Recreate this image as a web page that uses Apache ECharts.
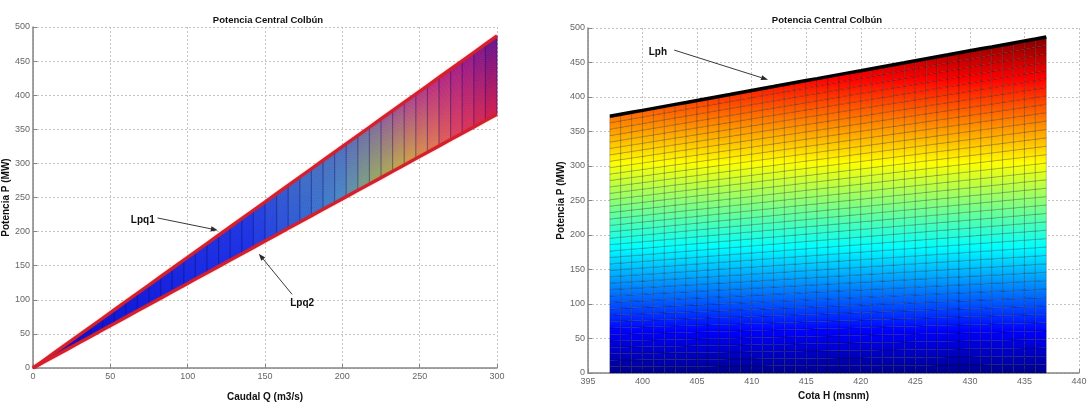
<!DOCTYPE html>
<html><head><meta charset="utf-8">
<script src="https://cdn.jsdelivr.net/npm/echarts@6/dist/echarts.min.js"></script>
<style>html,body{margin:0;padding:0;background:#fff}#c{width:1091px;height:407px}</style>
</head><body><div id="c"></div>
<script>
// ---- data ----
const caudalQ = [0,7.5,15,22.5,30,37.5,45,52.5,60,67.5,75,82.5,90,97.5,105,112.5,120,127.5,135,142.5,150,157.5,165,172.5,180,187.5,195,202.5,210,217.5,225,232.5,240,247.5,255,262.5,270,277.5,285,292.5,300];
const cotaH = [397,398,399,400,401,402,403,404,405,406,407,408,409,410,411,412,413,414,415,416,417,418,419,420,421,422,423,424,425,426,427,428,429,430,431,432,433,434,435,436,437];
// power at full flow (Q = 300) for each level H, read along Lph
const potenciaMax = [372,374.9,377.8,380.6,383.5,386.4,389.3,392.1,395,397.9,400.8,403.6,406.5,409.4,412.3,415.1,418,420.9,423.8,426.6,429.5,432.4,435.3,438.1,441,443.9,446.8,449.6,452.5,455.4,458.3,461.1,464,466.9,469.8,472.6,475.5,478.4,481.3,484.1,487];
const tituloTexto = 'Potencia Central Colbún';
const annotIzqLabel = ['Lpq1','Lpq2'];
const annotIzqText = [[71,217],[174,95]];
const annotIzqFrom = [[80.5,220],[167.5,108]];
const annotIzqTo = [[119.5,202],[146,167.5]];
const annotDerLabel = ['Lph'];
const annotDerText = [[401.4,465]];
const annotDerFrom = [[402.9,468]];
const annotDerTo = [[411.5,425]];

// ---- styling ----
const FONT = "'Liberation Sans Narrow','Liberation Sans',Arial,sans-serif";
const JET = [{offset:0,color:'#00008f'},{offset:0.125,color:'#0000ff'},{offset:0.375,color:'#00ffff'},{offset:0.625,color:'#ffff00'},{offset:0.875,color:'#ff0000'},{offset:1,color:'#800000'}];
const bottomStops = [[0,'#1414f0'],[140,'#1a30f0'],[175,'#3068d8'],[200,'#4a90c8'],[220,'#9ab060'],[240,'#d0b040'],[258,'#e88050'],[275,'#e83c5a'],[300,'#d81848']];
const topStops = [[0,'#1414f0'],[140,'#2038e8'],[175,'#4070c8'],[200,'#5070c0'],[220,'#8070a0'],[240,'#b04890'],[260,'#c02880'],[280,'#a01888'],[300,'#601090']];

function hex2rgb(h){return [parseInt(h.slice(1,3),16),parseInt(h.slice(3,5),16),parseInt(h.slice(5,7),16)];}
function sample(stops,q){
  if(q<=stops[0][0]) return hex2rgb(stops[0][1]);
  for(let k=1;k<stops.length;k++){
    if(q<=stops[k][0]){const a=hex2rgb(stops[k-1][1]),b=hex2rgb(stops[k][1]);const t=(q-stops[k-1][0])/(stops[k][0]-stops[k-1][0]);return a.map((v,n)=>v+(b[n]-v)*t);}
  }
  return hex2rgb(stops[stops.length-1][1]);
}
function leftColor(q,t){const b=sample(bottomStops,q),u=sample(topStops,q);const c=b.map((v,n)=>Math.round(v+(u[n]-v)*t));return 'rgb('+c.join(',')+')';}

const nQ=caudalQ.length,nH=cotaH.length,qMax=caudalQ[nQ-1];
const pNode=(i,j)=>potenciaMax[j]*caudalQ[i]/qMax;
const cells=[];for(let i=0;i<nQ-1;i++)for(let j=0;j<nH-1;j++)cells.push([i,j]);

function leftCell(params,api){
  const i=api.value(0),j=api.value(1);const q0=caudalQ[i],q1=caudalQ[i+1];
  const pts=[api.coord([q0,pNode(i,j)]),api.coord([q1,pNode(i+1,j)]),api.coord([q1,pNode(i+1,j+1)]),api.coord([q0,pNode(i,j+1)])];
  const col=leftColor((q0+q1)/2,(j+0.5)/(nH-1));
  return {type:'polygon',shape:{points:pts},style:{fill:col,stroke:col,lineWidth:0.6}};
}
function leftFan(params,api){
  const j=api.value(0);
  return {type:'polyline',shape:{points:caudalQ.map((q,i)=>api.coord([q,pNode(i,j)]))},style:{stroke:'rgba(20,20,110,0.12)',lineWidth:0.6,fill:null}};
}
function leftVert(params,api){
  const i=api.value(0);
  const a=api.coord([caudalQ[i],pNode(i,0)]),b=api.coord([caudalQ[i],pNode(i,nH-1)]);
  return {type:'line',shape:{x1:a[0],y1:a[1],x2:b[0],y2:b[1]},style:{stroke:'rgba(20,20,110,0.45)',lineWidth:1}};
}
function rightCell(params,api){
  const i=api.value(0),j=api.value(1);const h0=cotaH[j],h1=cotaH[j+1];
  const pts=[api.coord([h0,pNode(i,j)]),api.coord([h1,pNode(i,j+1)]),api.coord([h1,pNode(i+1,j+1)]),api.coord([h0,pNode(i+1,j)])];
  const yb=api.coord([h0,0])[1],yt=api.coord([h0,potenciaMax[nH-1]])[1];
  return {type:'polygon',shape:{points:pts},style:{fill:new echarts.graphic.LinearGradient(0,yb,0,yt,JET,true),stroke:'rgba(0,0,0,0.33)',lineWidth:0.7}};
}
function annot(labels,textPos,from,to){
  return function(params,api){
    const k=params.dataIndex;
    const tp=api.coord(textPos[k]),a=api.coord(from[k]),b=api.coord(to[k]);
    const dx=b[0]-a[0],dy=b[1]-a[1],L=Math.hypot(dx,dy),ux=dx/L,uy=dy/L;
    const hl=7,hw=2.6;
    const base=[b[0]-ux*hl,b[1]-uy*hl];
    return {type:'group',children:[
      {type:'line',shape:{x1:a[0],y1:a[1],x2:base[0],y2:base[1]},style:{stroke:'#3a3a3a',lineWidth:1}},
      {type:'polygon',shape:{points:[b,[base[0]-uy*hw,base[1]+ux*hw],[base[0]+uy*hw,base[1]-ux*hw]]},style:{fill:'#2a2a2a'}},
      {type:'text',x:tp[0],y:tp[1],style:{text:labels[k],textAlign:'center',textVerticalAlign:'middle',font:'bold 10px '+FONT,fill:'#111'}}
    ]};
  };
}

function xAx(gi,min,max,interval,name,gap){
  return {gridIndex:gi,type:'value',min:min,max:max,interval:interval,name:name,nameLocation:'middle',nameGap:gap,
    nameTextStyle:{fontWeight:'bold',fontSize:10,color:'#111',fontFamily:FONT},
    axisLine:{show:true,onZero:false,lineStyle:{color:'#858585',width:1.5}},
    axisTick:{show:true,inside:true,length:4,lineStyle:{color:'#858585'}},
    axisLabel:{fontSize:9,color:'#666',margin:4,fontFamily:FONT},
    splitLine:{show:true,lineStyle:{color:'#c4c4c4',type:[2,2],width:1}}};
}
function yAx(gi,name,gap){
  return {gridIndex:gi,type:'value',min:0,max:500,interval:50,name:name,nameLocation:'middle',nameGap:gap,
    nameTextStyle:{fontWeight:'bold',fontSize:10,color:'#111',fontFamily:FONT},
    axisLine:{show:true,onZero:false,lineStyle:{color:'#858585',width:1.5}},
    axisTick:{show:true,inside:true,length:4,lineStyle:{color:'#858585'}},
    axisLabel:{fontSize:9,color:'#666',margin:3,fontFamily:FONT},
    splitLine:{show:true,lineStyle:{color:'#c4c4c4',type:[2,2],width:1}}};
}

const chart=echarts.init(document.getElementById('c'),null,{renderer:'canvas',width:1091,height:407});
chart.setOption({
  animation:false,
  backgroundColor:'#fff',
  title:[
    {text:tituloTexto,left:263,top:10,textAlign:'center',textStyle:{fontSize:9.5,fontWeight:'bold',color:'#111',fontFamily:FONT}},
    {text:tituloTexto,left:822,top:10,textAlign:'center',textStyle:{fontSize:9.5,fontWeight:'bold',color:'#111',fontFamily:FONT}}
  ],
  grid:[{left:33,top:27,width:464,height:346},{left:588,top:28,width:491,height:345}],
  xAxis:[xAx(0,0,300,50,'Caudal Q (m3/s)',24),xAx(1,395,440,5,'Cota H (msnm)',17)],
  yAxis:[yAx(0,'Potencia P (MW)',21),yAx(1,'Potencia P (MW)',20)],
  series:[
    {type:'custom',xAxisIndex:0,yAxisIndex:0,data:cells,renderItem:leftCell,silent:true,z:2},
    {type:'custom',xAxisIndex:0,yAxisIndex:0,data:cotaH.map((h,j)=>[j]),renderItem:leftFan,silent:true,z:3},
    {type:'custom',xAxisIndex:0,yAxisIndex:0,data:caudalQ.map((q,i)=>[i]).slice(1),renderItem:leftVert,silent:true,z:4},
    {type:'line',name:'Lpq1',xAxisIndex:0,yAxisIndex:0,data:caudalQ.map((q,i)=>[q,pNode(i,nH-1)]),symbol:'none',silent:true,z:5,
      lineStyle:{color:'#d41f2c',width:3.2,shadowColor:'rgba(220,40,40,0.4)',shadowBlur:2}},
    {type:'line',name:'Lpq2',xAxisIndex:0,yAxisIndex:0,data:caudalQ.map((q,i)=>[q,pNode(i,0)]),symbol:'none',silent:true,z:5,
      lineStyle:{color:'#d41f2c',width:3.2,shadowColor:'rgba(220,40,40,0.4)',shadowBlur:2}},
    {type:'custom',xAxisIndex:0,yAxisIndex:0,data:annotIzqLabel.map((l,k)=>[k]),renderItem:annot(annotIzqLabel,annotIzqText,annotIzqFrom,annotIzqTo),silent:true,z:6},
    {type:'custom',xAxisIndex:1,yAxisIndex:1,data:cells,renderItem:rightCell,silent:true,z:2},
    {type:'line',name:'Lph',xAxisIndex:1,yAxisIndex:1,data:cotaH.map((h,j)=>[h,potenciaMax[j]]),symbol:'none',silent:true,z:5,
      lineStyle:{color:'#000',width:3.5}},
    {type:'custom',xAxisIndex:1,yAxisIndex:1,data:annotDerLabel.map((l,k)=>[k]),renderItem:annot(annotDerLabel,annotDerText,annotDerFrom,annotDerTo),silent:true,z:6}
  ]
});
</script></body></html>
